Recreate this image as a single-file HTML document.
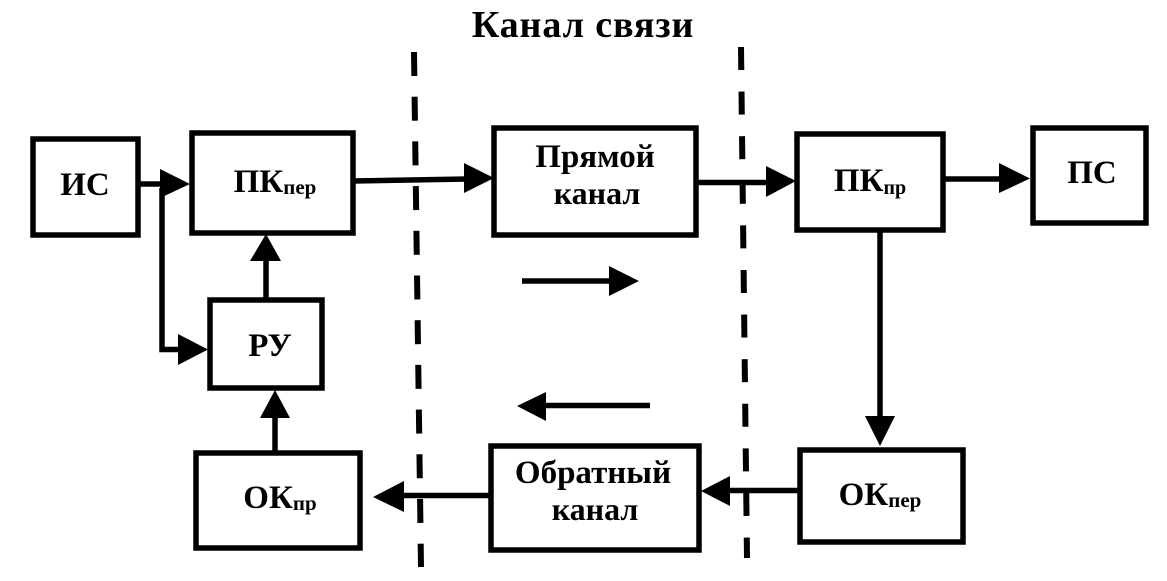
<!DOCTYPE html>
<html><head><meta charset="utf-8"><style>html,body{margin:0;padding:0;background:#fff}svg{display:block}text{font-family:"Liberation Serif",serif;font-weight:bold;fill:#000;text-anchor:middle}</style></head><body>
<svg width="1167" height="581" viewBox="0 0 1167 581" xmlns="http://www.w3.org/2000/svg">
<text x="583" y="37" font-size="38" letter-spacing="0.9">Канал связи</text>
<g fill="none" stroke="#000" stroke-width="5.5">
<rect x="33" y="139" width="105" height="96"/>
<rect x="192" y="133" width="161" height="100"/>
<rect x="494" y="128" width="202" height="107"/>
<rect x="797" y="134" width="146" height="96"/>
<rect x="1033" y="128" width="113" height="95"/>
<rect x="210" y="300" width="112" height="88"/>
<rect x="196" y="453" width="164" height="95"/>
<rect x="491" y="446" width="208" height="104"/>
<rect x="800" y="450" width="163" height="92"/>
</g>
<g stroke="#000" stroke-width="6" fill="none">
<path d="M414 52L421 567" stroke-dasharray="24 20.7"/>
<path d="M741 47L747 558" stroke-dasharray="23 21.6"/>
</g>
<g stroke="#000" stroke-width="5.5" fill="none">
<path d="M138 184H165"/>
<path d="M162 188V349.5H182"/>
<path d="M353 181L468 179"/>
<path d="M696 182.5H770"/>
<path d="M943 179H1004"/>
<path d="M266 300V258"/>
<path d="M275 453V415"/>
<path d="M880 230V420"/>
<path d="M800 490.5H726"/>
<path d="M491 495.5H400"/>
<path d="M522 281H612"/>
<path d="M650 405.5H542"/>
</g>
<g fill="#000">
<path d="M160 169L190 184L160 198Z"/>
<path d="M178 334L208 349.5L178 365Z"/>
<path d="M464 163L494 178L464 193Z"/>
<path d="M766 166L796 181L766 197Z"/>
<path d="M999 163L1030 178.5L999 193Z"/>
<path d="M250 261L266 234L281 261Z"/>
<path d="M260 418L275 390L290 418Z"/>
<path d="M865 416L880 446L895 416Z"/>
<path d="M730 476L701 491L730 506Z"/>
<path d="M404 481L373 497L404 512Z"/>
<path d="M609 266L639 281L609 296Z"/>
<path d="M546 392L517 406L546 421Z"/>
</g>
<text x="85" y="195" font-size="33">ИС</text>
<text x="275" y="192" font-size="33">ПК<tspan font-size="21" dy="2">пер</tspan></text>
<text x="595" y="167" font-size="33">Прямой</text>
<text x="597" y="204" font-size="32">канал</text>
<text x="870" y="191" font-size="33">ПК<tspan font-size="20" dy="3">пр</tspan></text>
<text x="1092" y="183" font-size="33">ПС</text>
<text x="270" y="356" font-size="33">РУ</text>
<text x="280" y="508" font-size="33">ОК<tspan font-size="21" dy="2">пр</tspan></text>
<text x="593" y="483" font-size="33">Обратный</text>
<text x="595" y="520" font-size="32">канал</text>
<text x="880" y="505" font-size="33">ОК<tspan font-size="21" dy="2">пер</tspan></text>
</svg>
</body></html>
